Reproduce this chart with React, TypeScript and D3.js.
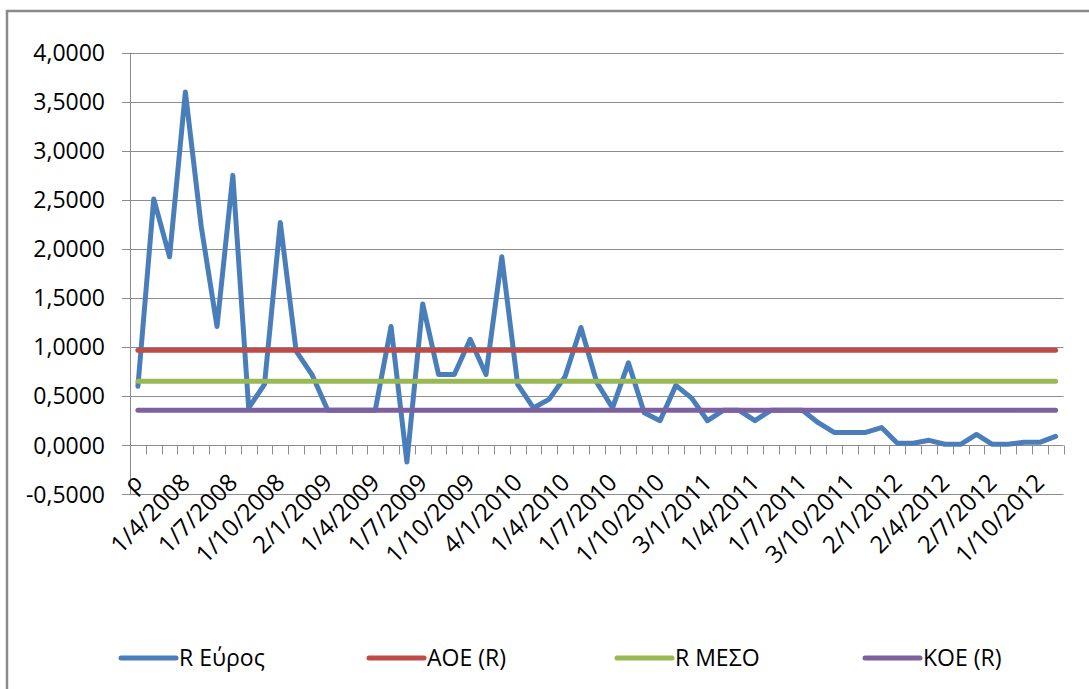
import React, { useEffect, useRef } from "react";
import * as d3 from "d3";

// κατηγορίες (μήνες) - μόνο κάθε 3η εμφανίζεται στον άξονα
const categories: string[] = [
  "ρ", "1/2/2008", "1/3/2008", "1/4/2008", "1/5/2008", "1/6/2008",
  "1/7/2008", "1/8/2008", "1/9/2008", "1/10/2008", "1/11/2008", "1/12/2008",
  "2/1/2009", "2/2/2009", "2/3/2009", "1/4/2009", "1/5/2009", "1/6/2009",
  "1/7/2009", "1/8/2009", "1/9/2009", "1/10/2009", "1/11/2009", "1/12/2009",
  "4/1/2010", "1/2/2010", "1/3/2010", "1/4/2010", "1/5/2010", "1/6/2010",
  "1/7/2010", "1/8/2010", "1/9/2010", "1/10/2010", "1/11/2010", "1/12/2010",
  "3/1/2011", "1/2/2011", "1/3/2011", "1/4/2011", "1/5/2011", "1/6/2011",
  "1/7/2011", "1/8/2011", "1/9/2011", "3/10/2011", "1/11/2011", "1/12/2011",
  "2/1/2012", "1/2/2012", "1/3/2012", "2/4/2012", "1/5/2012", "1/6/2012",
  "2/7/2012", "1/8/2012", "1/9/2012", "1/10/2012", "1/11/2012",
];

// R Εύρος
const rEuros: number[] = [
  0.6, 2.51, 1.92, 3.6, 2.23, 1.21, 2.75, 0.38, 0.62, 2.27, 0.96, 0.72,
  0.356, 0.356, 0.356, 0.356, 1.21, -0.17, 1.44, 0.72, 0.72, 1.08, 0.72, 1.92,
  0.62, 0.38, 0.47, 0.7, 1.2, 0.64, 0.38, 0.84, 0.33, 0.25, 0.61, 0.48,
  0.25, 0.356, 0.356, 0.25, 0.356, 0.356, 0.356, 0.23, 0.13, 0.13, 0.13, 0.18,
  0.02, 0.02, 0.05, 0.01, 0.01, 0.11, 0.01, 0.01, 0.03, 0.03, 0.09,
];

// σταθερές γραμμές
const levelNames: string[] = ["ΑΟΕ (R)", "R ΜΕΣΟ", "ΚΟΕ (R)"];
const levelValues: number[] = [0.967, 0.651, 0.356];

const yTicks: number[] = [-0.5, 0, 0.5, 1, 1.5, 2, 2.5, 3, 3.5, 4];

const seriesNames: string[] = ["R Εύρος", ...levelNames];
const seriesColors: string[] = ["#4A7EBB", "#BE4B48", "#98B954", "#7D60A0"];

const W = 1089;
const H = 689;
const FONT = "'Open Sans', 'Noto Sans', sans-serif";

const App: React.FC = () => {
  const svgRef = useRef<SVGSVGElement>(null);

  useEffect(() => {
    if (!svgRef.current) return;
    const svg = d3.select(svgRef.current);
    svg.selectAll("*").remove();

    // πλαίσιο γραφήματος
    svg
      .append("rect")
      .attr("x", 7)
      .attr("y", 11)
      .attr("width", W + 20)
      .attr("height", H + 20)
      .attr("fill", "white")
      .attr("stroke", "#8a8a8a")
      .attr("stroke-width", 2.5);

    const left = 130;
    const right = 1063.5;

    const x = d3
      .scaleBand<string>()
      .domain(categories)
      .range([left, right])
      .padding(0);

    const y = d3.scaleLinear().domain([-0.5, 4]).range([494.3, 52.7]);
    const cx = (i: number) => (x(categories[i]) as number) + x.bandwidth() / 2;

    // γραμμές πλέγματος
    svg
      .append("g")
      .selectAll("line")
      .data(yTicks)
      .enter()
      .append("line")
      .attr("x1", left - 8)
      .attr("x2", right)
      .attr("y1", (d) => Math.round(y(d)) + 0.5)
      .attr("y2", (d) => Math.round(y(d)) + 0.5)
      .attr("stroke", "#8c8c8c")
      .attr("stroke-width", 1);

    // κάθετος άξονας
    svg
      .append("line")
      .attr("x1", left + 0.5)
      .attr("x2", left + 0.5)
      .attr("y1", y(4))
      .attr("y2", y(-0.5))
      .attr("stroke", "#8c8c8c");

    // ετικέτες άξονα y
    svg
      .append("g")
      .selectAll("text")
      .data(yTicks)
      .enter()
      .append("text")
      .attr("x", 105)
      .attr("y", (d) => y(d))
      .attr("dy", "0.36em")
      .attr("text-anchor", "end")
      .style("font-family", FONT)
      .style("font-size", "23px")
      .style("fill", "#000")
      .text((d) => d3.format(".4f")(d).replace(".", ",").replace("\u2212", "-"));

    // tick marks του άξονα κατηγοριών
    const y0 = Math.round(y(0)) + 0.5;
    svg
      .append("g")
      .selectAll("line")
      .data(d3.range(1, categories.length + 1))
      .enter()
      .append("line")
      .attr("x1", (k) => Math.round(left + k * x.bandwidth()) + 0.5)
      .attr("x2", (k) => Math.round(left + k * x.bandwidth()) + 0.5)
      .attr("y1", y0)
      .attr("y2", y0 + 9)
      .attr("stroke", "#8c8c8c");

    // ετικέτες άξονα x
    svg
      .append("g")
      .selectAll("text")
      .data(categories.filter((_, i) => i % 3 === 0))
      .enter()
      .append("text")
      .attr(
        "transform",
        (d) =>
          `translate(${(x(d) as number) + x.bandwidth() / 2 + 6}, 484) rotate(-45)`
      )
      .attr("text-anchor", "end")
      .style("font-family", FONT)
      .style("font-size", "24px")
      .style("fill", "#000")
      .text((d) => d);

    // σειρές
    const line = d3
      .line<number>()
      .x((_, i) => cx(i))
      .y((d) => y(d));

    svg
      .append("path")
      .datum(rEuros)
      .attr("d", line)
      .attr("fill", "none")
      .attr("stroke", seriesColors[0])
      .attr("stroke-width", 5)
      .attr("stroke-linejoin", "round")
      .attr("stroke-linecap", "round");

    levelValues.forEach((v, k) => {
      svg
        .append("line")
        .attr("x1", cx(0))
        .attr("x2", cx(categories.length - 1))
        .attr("y1", y(v))
        .attr("y2", y(v))
        .attr("stroke", seriesColors[k + 1])
        .attr("stroke-width", 5)
        .attr("stroke-linecap", "round");
    });

    // υπόμνημα
    const legend = svg
      .append("g")
      .selectAll("g")
      .data(seriesNames)
      .enter()
      .append("g")
      .attr("transform", (_, i) => `translate(${121 + i * 248}, 658)`);

    legend
      .append("line")
      .attr("x1", 0)
      .attr("x2", 55)
      .attr("stroke", (_, i) => seriesColors[i])
      .attr("stroke-width", 5)
      .attr("stroke-linecap", "round");

    legend
      .append("text")
      .attr("x", 58)
      .attr("dy", "0.36em")
      .style("font-family", FONT)
      .style("font-size", "23px")
      .style("fill", "#000")
      .text((d) => d);
  }, []);

  return (
    <svg
      ref={svgRef}
      width={W}
      height={H}
      style={{ position: "absolute", left: 0, top: 0, background: "white" }}
    />
  );
};

export default App;
